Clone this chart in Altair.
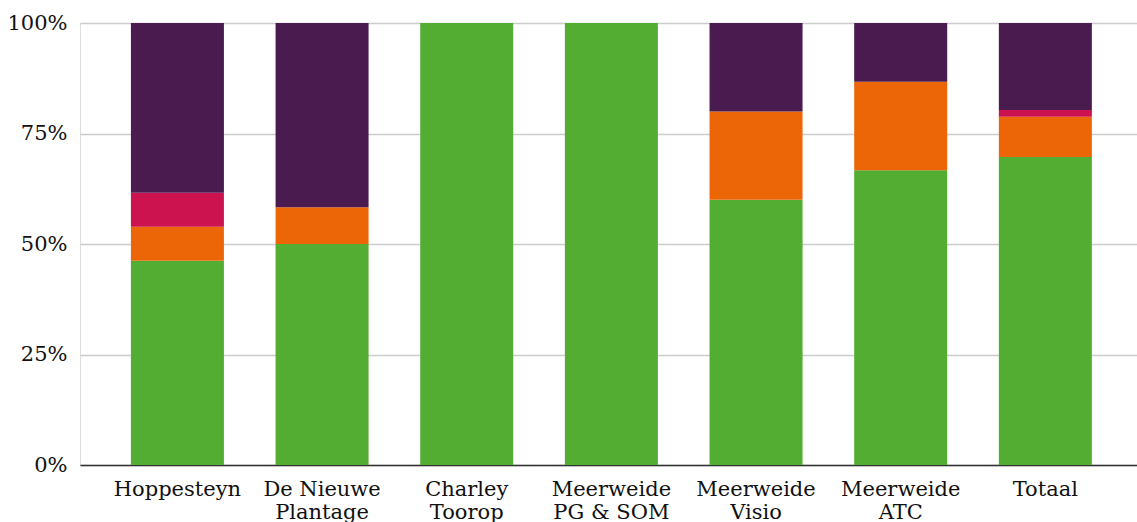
import altair as alt
import pandas as pd

categories = ["Hoppesteyn", "De Nieuwe|Plantage", "Charley|Toorop", "Meerweide|PG & SOM",
              "Meerweide|Visio", "Meerweide|ATC", "Totaal"]
series = ["Groen", "Oranje", "Rood", "Paars"]
colors = ["#53ad33", "#ec6608", "#cc1350", "#4a1b4f"]

green = [46.2, 50.0, 100.0, 100.0, 60.0, 66.7, 69.7]
orange = [7.7, 8.3, 0.0, 0.0, 20.0, 20.0, 9.1]
red = [7.7, 0.0, 0.0, 0.0, 0.0, 0.0, 1.5]
purple = [38.4, 41.7, 0.0, 0.0, 20.0, 13.3, 19.7]

rows = []
for s_i, (s, vals) in enumerate(zip(series, [green, orange, red, purple])):
    for c, v in zip(categories, vals):
        rows.append({"cat": c, "serie": s, "val": v / 100.0, "ord": s_i})
df = pd.DataFrame(rows)

font = "DejaVu Serif"

chart = alt.Chart(df).mark_bar(cornerRadius=0).encode(
    x=alt.X("cat:N", sort=categories, title=None,
            scale=alt.Scale(paddingInner=0.357, paddingOuter=0.332, align=0.53),
            axis=alt.Axis(labelExpr="split(datum.value, '|')", labelAngle=0,
                          labelFont=font, labelFontSize=21, labelColor="#111",
                          labelPadding=13, labelLineHeight=23, labelBaseline="top",
                          ticks=False, domainColor="#333", domainWidth=1.5,
                          grid=False)),
    y=alt.Y("val:Q", stack="zero", title=None,
            scale=alt.Scale(domain=[0, 1], nice=False),
            axis=alt.Axis(format=".0%", values=[0, 0.25, 0.5, 0.75, 1],
                          labelFont=font, labelFontSize=21, labelColor="#111",
                          labelPadding=13, ticks=False, domain=False,
                          gridColor="#cccccc", gridWidth=1.5)),
    color=alt.Color("serie:N", sort=series,
                    scale=alt.Scale(domain=series, range=colors), legend=None),
    order=alt.Order("ord:Q"),
).properties(
    width=1057, height=442,
    autosize=alt.AutoSizeParams(type="none"),
    padding={"left": 80, "top": 23, "right": 0, "bottom": 60},
).configure_view(stroke=None).configure(background="white")

chart.save("out.html", embed_options={"renderer": "svg", "actions": False})
